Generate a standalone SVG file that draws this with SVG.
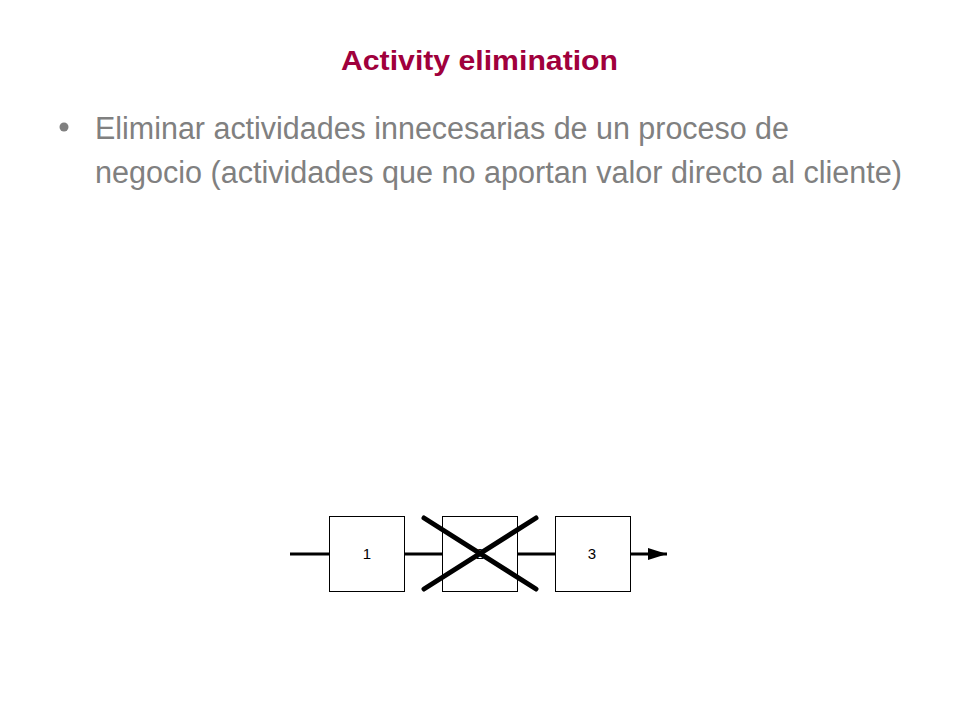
<svg xmlns="http://www.w3.org/2000/svg" width="960" height="720" viewBox="0 0 960 720">
  <defs>
    <marker id="arrow" viewBox="0 0 19 12" refX="19" refY="6" markerWidth="19" markerHeight="12" markerUnits="userSpaceOnUse" orient="auto" overflow="visible">
      <path d="M0,0 L19,6 L0,12 Z" fill="#000"/>
    </marker>
    <style>
      .title { font-family: "Liberation Sans Narrow", "Liberation Sans", Arial, sans-serif; font-weight: bold; font-size: 28px; fill: #A0003C; }
      .body { font-family: "Liberation Sans Narrow", "Liberation Sans", Arial, sans-serif; font-size: 31px; fill: #808080; }
      .box { fill: #fff; stroke: #000; stroke-width: 1; }
      .lbl { font-family: "Liberation Sans", Arial, sans-serif; font-size: 15px; fill: #000; text-anchor: middle; }
      .conn { stroke: #000; stroke-width: 3; fill: none; }
      .cross { stroke: #000; stroke-width: 5; stroke-linecap: round; }
    </style>
  </defs>
  <rect width="960" height="720" fill="#fff"/>

  <g id="title">
    <text class="title" x="341" y="70" textLength="277" lengthAdjust="spacingAndGlyphs">Activity elimination</text>
  </g>

  <g id="bullet">
    <circle cx="64" cy="127" r="4.5" fill="#808080"/>
    <text class="body" x="95" y="139" textLength="694" lengthAdjust="spacingAndGlyphs">Eliminar actividades innecesarias de un proceso de</text>
    <text class="body" x="95" y="183" textLength="807" lengthAdjust="spacingAndGlyphs">negocio (actividades que no aportan valor directo al cliente)</text>
  </g>

  <g id="connectors">
    <line class="conn" x1="290" y1="554" x2="329.5" y2="554"/>
    <line class="conn" x1="404.5" y1="554" x2="442.5" y2="554"/>
    <line class="conn" x1="517.5" y1="554" x2="555.5" y2="554"/>
    <line class="conn" x1="630.5" y1="554" x2="667" y2="554" marker-end="url(#arrow)"/>
  </g>

  <g id="node1">
    <rect class="box" x="329.5" y="516.5" width="75" height="75"/>
    <text class="lbl" x="367" y="559">1</text>
  </g>

  <g id="node2">
    <rect class="box" x="442.5" y="516.5" width="75" height="75"/>
    <text class="lbl" x="480" y="559">2</text>
  </g>

  <g id="node3">
    <rect class="box" x="555.5" y="516.5" width="75" height="75"/>
    <text class="lbl" x="592" y="559">3</text>
  </g>

  <g id="cross">
    <line class="cross" x1="424" y1="518" x2="536" y2="589"/>
    <line class="cross" x1="424" y1="589" x2="536" y2="518"/>
  </g>
</svg>
